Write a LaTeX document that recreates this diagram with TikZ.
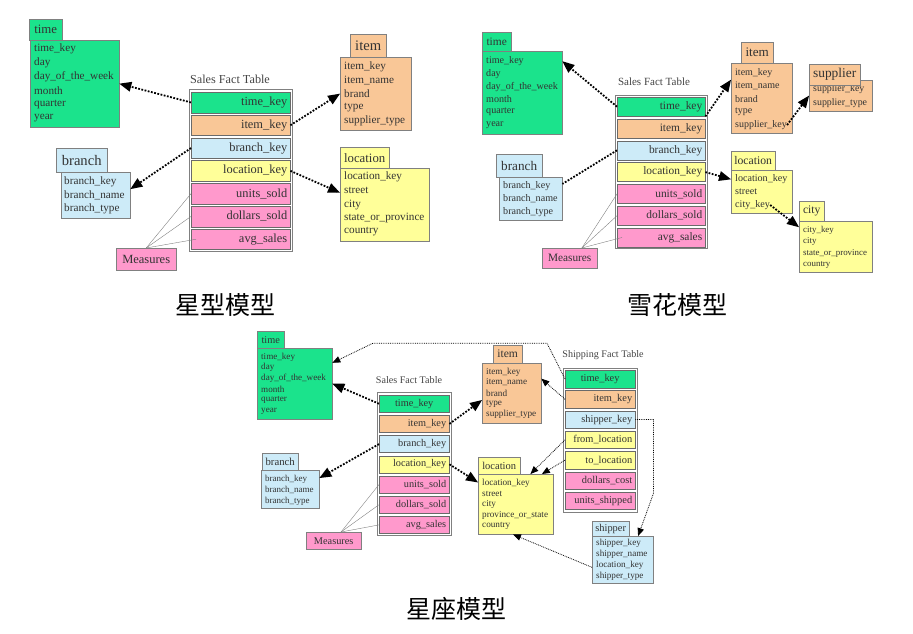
\documentclass[tikz,border=0pt]{standalone}
\usepackage{fontspec}
\setmainfont{Liberation Serif}
\newfontfamily\cjk{Noto Sans CJK SC}
\usetikzlibrary{arrows}

\definecolor{tgreen}{HTML}{1BE38C}
\definecolor{torange}{HTML}{F9C797}
\definecolor{tblue}{HTML}{CDEBF8}
\definecolor{tyellow}{HTML}{FFFF99}
\definecolor{tpink}{HTML}{FF99CC}
\definecolor{boxline}{HTML}{808080}
\definecolor{rowline}{HTML}{6A6A6A}
\definecolor{txt}{HTML}{333333}
\definecolor{captxt}{HTML}{444444}

\newcommand{\fsz}[2]{\fontsize{#1}{#2}\selectfont}

\begin{document}
\begin{tikzpicture}[x=1pt,y=-1pt,
  hdr/.style={draw=boxline, fill=#1, anchor=north west, inner sep=0pt, text=txt},
  bdy/.style={draw=boxline, fill=#1, anchor=north west, inner sep=0pt},
  fld/.style={anchor=west, inner sep=0pt, text=txt},
  row/.style={draw=rowline, fill=#1, anchor=north west, inner xsep=3pt, inner ysep=0pt, text=txt},
  fact/.style={draw=boxline, fill=white, anchor=north west, inner sep=0pt},
  tabcap/.style={text=captxt, inner sep=0pt},
  fk/.style={line width=1.8pt, dash pattern=on 1.8pt off 1.5pt, -triangle 45},
  fkline/.style={line width=1.8pt, dash pattern=on 1.8pt off 1.5pt},
  fkthin/.style={line width=0.8pt, dash pattern=on 0.8pt off 1pt, -triangle 45},
  meas/.style={draw=gray, line width=0.4pt},
  title/.style={font=\cjk\fsz{25}{25}, inner sep=0pt}]

\useasboundingbox (0,0) rectangle (913,634);

% star schema
\node[hdr=tgreen, minimum width=33, minimum height=21, font=\fsz{12.8}{14}] (s1th) at (29,19) {time};
\node[bdy=tgreen, minimum width=89, minimum height=87] (s1tb) at (30,40) {};
\foreach \f [count=\i] in {time\_key, day, day\_of\_the\_week, month, quarter, year}
    \node[fld, font=\fsz{11.2}{13}] (s1t\i) at (34, 49+13.8*\i-13.8) {\f};

\node[hdr=torange, minimum width=36, minimum height=23, font=\fsz{14.6}{16}] (s1ih) at (350,34) {item};
\node[bdy=torange, minimum width=71, minimum height=73] (s1ib) at (340,57) {};
\foreach \f [count=\i] in {item\_key, item\_name, brand, type, supplier\_type}
    \node[fld, font=\fsz{11.2}{13}] (s1i\i) at (344, 67+13.5*\i-13.5) {\f};

\node[hdr=tblue, minimum width=51, minimum height=24, font=\fsz{14.6}{16}] (s1bh) at (56,148) {branch};
\node[bdy=tblue, minimum width=69, minimum height=46] (s1bb) at (61,172) {};
\foreach \f [count=\i] in {branch\_key, branch\_name, branch\_type}
    \node[fld, font=\fsz{11.2}{13}] (s1b\i) at (64, 182+13.5*\i-13.5) {\f};

\node[hdr=tyellow, minimum width=49, minimum height=21, font=\fsz{12.8}{14}] (s1lh) at (340,147) {location};
\node[bdy=tyellow, minimum width=89, minimum height=73] (s1lb) at (340,168) {};
\foreach \f [count=\i] in {location\_key, street, city, state\_or\_province, country}
    \node[fld, font=\fsz{11.2}{13}] (s1l\i) at (344, 177+13.75*\i-13.75) {\f};

\node[tabcap, font=\fsz{12.2}{14}] (s1cap) at (230,79) {Sales Fact Table};
\node[fact, minimum width=103, minimum height=162] (s1f) at (189,89) {};
\foreach \n/\c/\t [count=\i from 0] in {tk/tgreen/time\_key, ik/torange/item\_key, bk/tblue/branch\_key,
    lk/tyellow/location\_key, us/tpink/units\_sold, ds/tpink/dollars\_sold, as/tpink/avg\_sales}
    \node[row=\c, text width=93, align=right, minimum height=20.5, font=\fsz{12.4}{14}] (s1\n) at (191, 92+22.8*\i) {\t};

\node[bdy=tpink, minimum width=60, minimum height=22, font=\fsz{12.5}{14}, text=txt] (s1m) at (116,248) {Measures};
\draw[meas] (s1m.north) -- (s1us.west);
\draw[meas] (s1m.north) -- (s1ds.west);
\draw[meas] (s1m.north) -- ([xshift=5]s1as.west);

\draw[fk] (s1tk.west) -- (s1tb.east);
\draw[fk] (s1ik.east) -- (s1ib.west);
\draw[fk] (s1bk.west) -- (s1bb.10);
\draw[fk] (s1lk.east) -- (s1lb.165);

\node[title] (t1) at (225,305) {星型模型};

% snowflake schema
\node[hdr=tgreen, minimum width=29, minimum height=19, font=\fsz{11.4}{13}] (s2th) at (482,32) {time};
\node[bdy=tgreen, minimum width=80, minimum height=83] (s2tb) at (482,51) {};
\foreach \f [count=\i] in {time\_key, day, day\_of\_the\_week, month, quarter, year}
    \node[fld, font=\fsz{10.1}{12}] (s2t\i) at (486, 61+12.8*\i-12.8) {\f};

\node[hdr=torange, minimum width=32, minimum height=21, font=\fsz{13.1}{15}] (s2ih) at (741,42) {item};
\node[bdy=torange, minimum width=61, minimum height=70] (s2ib) at (731,63) {};
\foreach \f [count=\i] in {item\_key, item\_name, brand, type, supplier\_key}
    \node[fld, font=\fsz{10}{12}] (s2i\i) at (735, 73+13*\i-13) {\f};

\node[bdy=torange, minimum width=63, minimum height=31] (s2sb) at (809,80) {};
\foreach \f [count=\i] in {supplier\_key, supplier\_type}
    \node[fld, font=\fsz{9.9}{12}] (s2s\i) at (813, 89+14*\i-14) {\f};
\node[hdr=torange, minimum width=51, minimum height=21, font=\fsz{13.4}{15}] (s2sh) at (809,64) {supplier};

\node[hdr=tblue, minimum width=46, minimum height=23, font=\fsz{13.2}{15}] (s2bh) at (496,154) {branch};
\node[bdy=tblue, minimum width=63, minimum height=43] (s2bb) at (499,177) {};
\foreach \f [count=\i] in {branch\_key, branch\_name, branch\_type}
    \node[fld, font=\fsz{10.1}{12}] (s2b\i) at (503, 186+13*\i-13) {\f};

\node[hdr=tyellow, minimum width=44, minimum height=19, font=\fsz{11.7}{13}] (s2lh) at (731,151) {location};
\node[bdy=tyellow, minimum width=61, minimum height=43] (s2lb) at (731,170) {};
\foreach \f [count=\i] in {location\_key, street, city\_key}
    \node[fld, font=\fsz{10.1}{12}] (s2l\i) at (735, 179+13*\i-13) {\f};

\node[hdr=tyellow, minimum width=25, minimum height=20, font=\fsz{11.6}{13}] (s2ch) at (799,201) {city};
\node[bdy=tyellow, minimum width=73, minimum height=51] (s2cb) at (799,221) {};
\foreach \f [count=\i] in {city\_key, city, state\_or\_province, country}
    \node[fld, font=\fsz{8.9}{11}] (s2c\i) at (803, 230+11.7*\i-11.7) {\f};

\node[tabcap, font=\fsz{11}{13}] (s2cap) at (654,82) {Sales Fact Table};
\node[fact, minimum width=92, minimum height=153] (s2f) at (615,95) {};
\foreach \n/\c/\t [count=\i from 0] in {tk/tgreen/time\_key, ik/torange/item\_key, bk/tblue/branch\_key,
    lk/tyellow/location\_key, us/tpink/units\_sold, ds/tpink/dollars\_sold, as/tpink/avg\_sales}
    \node[row=\c, text width=82, align=right, minimum height=19, font=\fsz{11.4}{13}] (s2\n) at (617, 97+21.8*\i) {\t};

\node[bdy=tpink, minimum width=55, minimum height=20, font=\fsz{11.3}{13}, text=txt] (s2m) at (542,248) {Measures};
\draw[meas] (s2m.40) -- (s2us.west);
\draw[meas] (s2m.40) -- (s2ds.west);
\draw[meas] (s2m.40) -- ([xshift=5]s2as.west);

\draw[fk] (s2tk.west) -- (s2tb.38);
\draw[fk] (s2tk.south east) -- (s2ib.149);
\draw[fk] (s2i5.east) -- (s2sb.west);
\draw[fkline] (s2bk.west) -- (s2bb.25);
\draw[fk] (s2lk.east) -- (s2lb.158);
\draw[fk] (s2l3.east) -- (s2cb.152);

\node[title] (t2) at (677,305) {雪花模型};

% fact constellation
\node[hdr=tgreen, minimum width=27, minimum height=17, font=\fsz{10.3}{12}] (s3th) at (257,331) {time};
\node[bdy=tgreen, minimum width=75, minimum height=71] (s3tb) at (257,348) {};
\foreach \f [count=\i] in {time\_key, day, day\_of\_the\_week, month, quarter, year}
    \node[fld, font=\fsz{9.1}{11}] (s3t\i) at (261, 357+10.8*\i-10.8) {\f};

\node[hdr=torange, minimum width=29, minimum height=18, font=\fsz{11.6}{13}] (s3ih) at (493,345) {item};
\node[bdy=torange, minimum width=59, minimum height=60] (s3ib) at (482,363) {};
\foreach \f [count=\i] in {item\_key, item\_name, brand, type, supplier\_type}
    \node[fld, font=\fsz{9.2}{11}] (s3i\i) at (486, 372+10.5*\i-10.5) {\f};

\node[hdr=tblue, minimum width=36, minimum height=17, font=\fsz{10.7}{12}] (s3bh) at (262,453) {branch};
\node[bdy=tblue, minimum width=58, minimum height=38] (s3bb) at (261,470) {};
\foreach \f [count=\i] in {branch\_key, branch\_name, branch\_type}
    \node[fld, font=\fsz{9}{11}] (s3b\i) at (265, 479+11*\i-11) {\f};

\node[hdr=tyellow, minimum width=42, minimum height=17, font=\fsz{10.5}{12}] (s3lh) at (478,457) {location};
\node[bdy=tyellow, minimum width=75, minimum height=60] (s3lb) at (478,474) {};
\foreach \f [count=\i] in {location\_key, street, city, province\_or\_state, country}
    \node[fld, font=\fsz{9.2}{11}] (s3l\i) at (482, 483+10.75*\i-10.75) {\f};

\node[hdr=tblue, minimum width=37, minimum height=15, font=\fsz{10.4}{12}] (s3shh) at (592,521) {shipper};
\node[bdy=tblue, minimum width=61, minimum height=47] (s3shb) at (592,536) {};
\foreach \f [count=\i] in {shipper\_key, shipper\_name, location\_key, shipper\_type}
    \node[fld, font=\fsz{9.15}{11}] (s3sh\i) at (596, 543+11*\i-11) {\f};

\node[tabcap, font=\fsz{10.1}{12}] (s3cap) at (409,380) {Sales Fact Table};
\node[fact, minimum width=74, minimum height=143] (s3f) at (377,392) {};
\foreach \n/\c/\a/\t [count=\i from 0] in {tk/tgreen/center/time\_key, ik/torange/right/item\_key, bk/tblue/right/branch\_key,
    lk/tyellow/right/location\_key, us/tpink/right/units\_sold, ds/tpink/right/dollars\_sold, as/tpink/right/avg\_sales}
    \node[row=\c, text width=64, align=\a, minimum height=17, font=\fsz{10.3}{12}] (s3\n) at (379, 395+20.2*\i) {\t};

\node[tabcap, font=\fsz{10.1}{12}] (s3scap) at (603,355) {Shipping Fact Table};
\node[fact, minimum width=74, minimum height=144] (s3sf) at (563,368) {};
\foreach \n/\c/\a/\t [count=\i from 0] in {stk/tgreen/center/time\_key, sik/torange/right/item\_key, ssk/tblue/right/shipper\_key,
    sfl/tyellow/right/from\_location, stl/tyellow/right/to\_location, sdc/tpink/right/dollars\_cost, sus/tpink/right/units\_shipped}
    \node[row=\c, text width=64, align=\a, minimum height=17.5, font=\fsz{10.4}{12}] (s3\n) at (565, 370+20.3*\i) {\t};

\node[bdy=tpink, minimum width=55, minimum height=17, font=\fsz{10.3}{12}, text=txt] (s3m) at (306,532) {Measures};
\draw[meas] (s3m.50) -- (s3us.west);
\draw[meas] (s3m.50) -- (s3ds.west);
\draw[meas] (s3m.50) -- (s3as.west);

\draw[fk] (s3tk.west) -- (s3tb.east);
\draw[fk] (s3ik.east) -- (s3ib.193);
\draw[fk] (s3bk.west) -- (s3bb.21);
\draw[fk] (s3lk.east) -- (s3lb.150);

\draw[fkthin] (s3stk.west) -- ++(-18,-35.75) -- ++(-174,0) -- (s3tb.29);
\draw[fkthin] (s3sik.west) -- (s3ib.26);
\draw[fkthin] (s3sfl.west) -- (s3lb.64);
\draw[fkthin] (s3stl.west) -- (s3lb.49);
\draw[fkthin] (s3ssk.east) -- ++(18,0) -- ++(0,74) -- (s3shb.57);
\draw[fkthin] (s3shb.194) -- (s3lb.265);

\node[title] (t3) at (456,609) {星座模型};

\end{tikzpicture}
\end{document}
